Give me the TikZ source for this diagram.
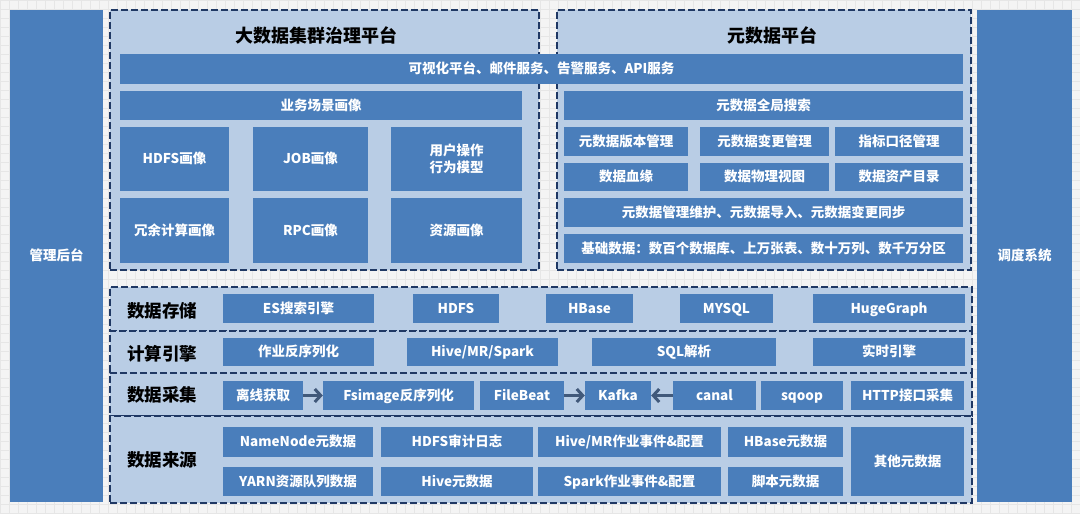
\documentclass[tikz,border=0pt]{standalone}
\usepackage{fontspec}
\setmainfont{Noto Sans CJK SC}
\usetikzlibrary{arrows.meta}
\definecolor{boxc}{HTML}{4A7EBB}
\definecolor{panelc}{HTML}{B9CDE5}
\definecolor{dashc}{HTML}{1F3864}
\definecolor{arrc}{HTML}{41597A}
\definecolor{bgc}{HTML}{F4F4F4}
\definecolor{gridc}{HTML}{E6E6E6}
\newcommand\bx[7][]{%
  \pgfmathsetmacro\bxcx{(#3+#5)/2}\pgfmathsetmacro\bxcy{(#4+#6)/2}%
  \pgfmathsetmacro\bxw{#5-#3}\pgfmathsetmacro\bxh{#6-#4}%
  \node[box,#1,minimum width=\bxw pt,minimum height=\bxh pt] (#2) at (\bxcx,\bxcy) {#7};}
\tikzset{
  box/.style={fill=boxc,draw=none,text=white,inner sep=0pt,align=center,
    text height=11pt,text depth=1.4pt,
    font=\bfseries\fontsize{13.5}{17}\selectfont},
  multi/.style={text height=,text depth=},
  panel/.style={box,fill=panelc,draw=dashc,line width=2pt,dash pattern=on 7pt off 3pt},
  title/.style={font=\bfseries\fontsize{18}{22}\selectfont,text=black,inner sep=0pt},
  rowlabel/.style={font=\bfseries\fontsize{17.5}{21}\selectfont,text=black,inner sep=0pt},
  arr/.style={draw=arrc,line width=3pt,-{Straight Barb[length=6pt,width=13pt]}}
}
\begin{document}
\begin{tikzpicture}[x=1pt,y=-1pt]
\useasboundingbox (0,0) rectangle (1080,514);
\fill[bgc] (0,0) rectangle (1080,514);
\draw[gridc,line width=0.3pt,step=9pt] (0,0) grid (1080,514);
% side bars
\bx{mgmt}{10}{10}{103}{502}{管理后台}
\bx{sched}{977}{10}{1072}{502}{调度系统}
% top panels
\bx[panel]{gov}{110}{10}{539}{270}{}
\bx[panel]{meta}{557}{10}{971}{270}{}
\node[title] (govt) at (316,35) {大数据集群治理平台};
\node[title] (metat) at (772,35) {元数据平台};
\bx{vis}{120}{54}{963}{84}{可视化平台、邮件服务、告警服务、API服务}
% left panel
\bx{biz}{120}{91}{522}{120}{业务场景画像}
\bx{hdfsp}{120}{127}{229}{191}{HDFS画像}
\bx{jobp}{253}{127}{368}{191}{JOB画像}
\bx[multi]{userp}{391}{127}{522}{191}{用户操作\\行为模型}
\bx{redp}{120}{198}{229}{263}{冗余计算画像}
\bx{rpcp}{253}{198}{368}{263}{RPC画像}
\bx{resp}{391}{198}{522}{263}{资源画像}
% right panel
\bx{search}{564}{91}{963}{120}{元数据全局搜索}
\bx{ver}{564}{127}{688}{156}{元数据版本管理}
\bx{chg}{700}{127}{829}{156}{元数据变更管理}
\bx{idx}{835}{127}{963}{156}{指标口径管理}
\bx{lin}{564}{163}{688}{191}{数据血缘}
\bx{phy}{700}{163}{829}{191}{数据物理视图}
\bx{asset}{835}{163}{963}{191}{数据资产目录}
\bx{maint}{564}{198}{963}{227}{元数据管理维护、元数据导入、元数据变更同步}
\bx{base}{564}{234}{963}{263}{基础数据：数百个数据库、上万张表、数十万列、数千万分区}
% bottom layers
\bx[panel]{store}{110}{287}{972}{331}{}
\bx[panel]{comp}{110}{331}{972}{373}{}
\bx[panel]{coll}{110}{373}{972}{416}{}
\bx[panel]{src}{110}{416}{972}{503}{}
\node[rowlabel] (storel) at (162,311) {数据存储};
\node[rowlabel] (compl) at (162,354) {计算引擎};
\node[rowlabel] (colll) at (162,395) {数据采集};
\node[rowlabel] (srcl) at (162,460) {数据来源};
% storage
\bx{es}{223}{294}{374}{323}{ES搜索引擎}
\bx{hdfs}{413}{294}{499}{323}{HDFS}
\bx{hbase}{546}{294}{633}{323}{HBase}
\bx{mysql}{680}{294}{773}{323}{MYSQL}
\bx{hg}{813}{294}{965}{323}{HugeGraph}
% compute
\bx{deser}{223}{338}{374}{366}{作业反序列化}
\bx{hive}{407}{338}{558}{366}{Hive/MR/Spark}
\bx{sql}{592}{338}{776}{366}{SQL解析}
\bx{rt}{813}{338}{965}{366}{实时引擎}
% collection
\bx{off}{223}{381}{303}{410}{离线获取}
\bx{fsi}{323}{381}{474}{410}{Fsimage反序列化}
\bx{fb}{480}{381}{564}{410}{FileBeat}
\bx{kafka}{585}{381}{651}{410}{Kafka}
\bx{canal}{673}{381}{756}{410}{canal}
\bx{sqoop}{761}{381}{843}{410}{sqoop}
\bx{http}{851}{381}{964}{410}{HTTP接口采集}
\draw[arr] (off) -- (fsi);
\draw[arr] (fb) -- (kafka);
\draw[arr] (canal) -- (kafka);
% sources
\bx{nn}{223}{427}{373}{457}{NameNode元数据}
\bx{audit}{381}{427}{533}{457}{HDFS审计日志}
\bx{hmr}{538}{427}{721}{457}{Hive/MR作业事件\&配置}
\bx{hbm}{728}{427}{843}{457}{HBase元数据}
\bx{yarn}{223}{467}{373}{496}{YARN资源队列数据}
\bx{hivem}{381}{467}{533}{496}{Hive元数据}
\bx{spark}{538}{467}{721}{496}{Spark作业事件\&配置}
\bx{script}{728}{467}{843}{496}{脚本元数据}
\bx{other}{851}{427}{964}{496}{其他元数据}
\end{tikzpicture}
\end{document}
